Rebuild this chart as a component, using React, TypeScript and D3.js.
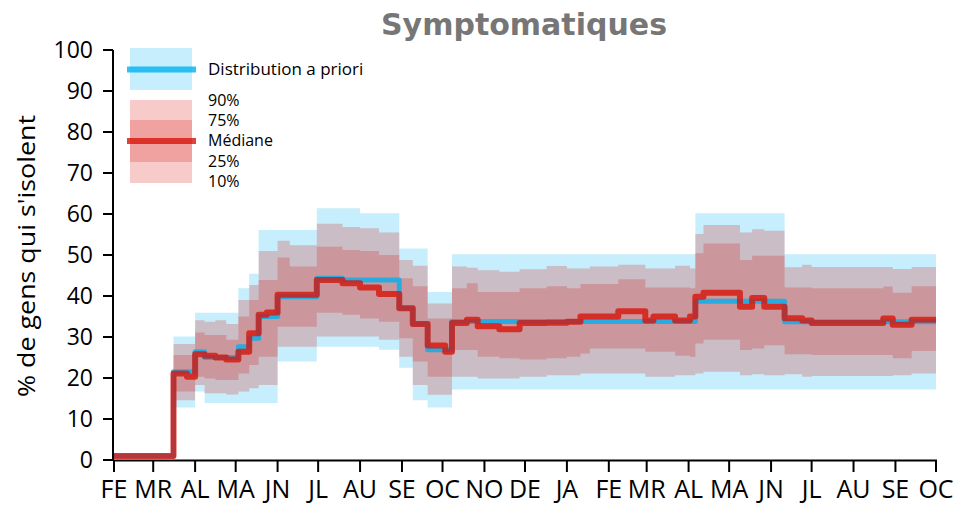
import React from "react";
import * as d3 from "d3";

// ---------- data ----------
const MONTH_LABELS = ["FE","MR","AL","MA","JN","JL","AU","SE","OC","NO","DE","JA","FE","MR","AL","MA","JN","JL","AU","SE","OC"];
const AXIS_START = "2020-02-01";
const AXIS_END = "2021-10-01";
const PRE_VALUE = 1; // value shown before the first survey period

const SEG_START = [
  "2020-03-16","2020-03-26","2020-04-01","2020-04-08","2020-04-16","2020-04-24","2020-05-03","2020-05-11",
  "2020-05-18","2020-05-24","2020-06-01","2020-06-10","2020-06-30","2020-07-19","2020-08-01","2020-08-15",
  "2020-08-30","2020-09-09","2020-09-20","2020-10-03","2020-10-08","2020-10-19","2020-10-27","2020-11-12",
  "2020-11-27","2020-12-17","2021-01-01","2021-01-11","2021-01-18","2021-02-08","2021-02-28","2021-03-06",
  "2021-03-22","2021-04-02","2021-04-06","2021-04-12","2021-05-09","2021-05-18","2021-05-27","2021-06-11",
  "2021-06-24","2021-07-01","2021-08-23","2021-08-30","2021-09-13",
];
const SEG_END = "2021-10-01";

const PRIOR_HI = [30.1,30.1,35.9,35.9,35.9,35.9,41.9,45.4,56.1,56.1,56.1,56.1,61.4,61.4,60.2,60.2,51.6,51.6,41.0,41.0,50.2,50.2,50.2,50.2,50.2,50.2,50.2,50.2,50.2,50.2,50.2,50.2,50.2,50.2,60.2,60.2,60.2,60.2,60.2,50.2,50.2,50.2,50.2,50.2,50.2];
const PRIOR_LO = [12.8,12.8,16.7,13.9,13.9,13.9,13.9,13.9,13.9,13.9,24.0,24.0,27.6,27.6,27.6,26.9,22.5,14.6,12.8,12.8,17.2,17.2,17.2,17.2,17.2,17.2,17.2,17.2,17.2,17.2,17.2,17.2,17.2,17.2,17.2,17.2,17.2,17.2,17.2,17.2,17.2,17.2,17.2,17.2,17.2];
const PRIOR_MED = [21.5,21.5,26.4,25.0,25.0,25.0,27.6,29.7,35.0,35.0,39.8,39.8,44.3,43.9,43.9,43.9,37.0,33.2,26.9,26.9,33.8,33.8,33.8,33.8,33.8,33.8,33.8,33.8,33.8,33.8,33.8,33.8,33.8,33.8,38.7,38.7,38.7,38.7,38.7,33.7,33.7,33.7,33.7,33.7,33.7];
const Q90 = [28.3,28.3,34.1,33.7,34.1,33.2,39.0,42.7,51.0,51.0,53.5,52.4,57.6,56.8,56.5,55.5,48.8,47.4,38.2,38.2,47.2,46.9,46.3,45.9,46.5,47.3,46.7,46.7,47.2,47.6,46.7,46.7,47.4,46.7,55.1,57.3,55.5,56.3,55.9,47.0,47.6,47.1,47.1,46.6,47.1];
const Q75 = [25.6,25.6,31.1,30.5,30.5,29.3,35.0,39.0,43.9,43.9,49.4,47.2,52.0,51.2,51.0,50.0,44.3,42.4,34.5,34.5,41.9,43.1,41.0,41.0,41.9,42.4,41.9,42.9,42.9,44.1,42.1,42.1,42.1,41.9,50.4,52.8,48.8,49.8,49.8,42.1,42.1,41.9,42.3,40.8,42.4];
const MEDIAN = [21.1,20.3,25.8,25.4,25.0,24.5,26.4,30.9,35.4,36.0,40.3,40.3,43.9,43.1,42.1,40.5,37.0,33.2,27.9,26.4,33.4,34.2,32.6,31.9,33.4,33.5,33.7,35.0,35.0,36.3,34.0,35.0,34.0,35.0,39.8,40.8,37.4,39.5,37.4,34.6,34.0,33.4,34.5,33.0,34.2];
const Q25 = [16.7,16.7,20.3,19.9,19.5,19.5,21.1,23.2,25.2,25.2,32.5,32.5,35.9,35.4,34.5,33.7,29.7,24.0,20.3,20.3,26.8,26.8,25.2,24.8,24.5,24.8,25.2,26.0,27.2,27.2,26.4,26.4,25.4,25.2,28.4,29.3,26.8,27.2,28.0,25.8,25.8,25.6,25.6,24.8,26.6];
const Q10 = [14.6,14.6,18.3,16.3,16.3,16.0,16.7,17.5,18.3,18.3,27.6,27.6,30.1,30.1,30.1,29.3,25.2,18.3,15.9,15.9,20.3,20.3,19.9,19.9,20.3,20.7,20.7,21.1,21.1,21.1,20.3,20.3,20.7,20.7,21.1,21.5,20.7,20.9,20.7,20.9,20.3,20.5,20.5,20.7,21.1];

const Y_TICKS = [0,10,20,30,40,50,60,70,80,90,100];
const LEGEND_RED_LABELS = ["90%","75%","Médiane","25%","10%"];

// ---------- styles ----------
const BLUE = "#00b0f0";
const RED = "#d7140a";
const FONT = "'Open Sans', sans-serif";

export default function App() {
  const W = 959, H = 507;
  const parse = d3.utcParse("%Y-%m-%d");
  const x = d3.scaleUtc().domain([parse(AXIS_START)!, parse(AXIS_END)!]).range([114, 936]);
  const y = d3.scaleLinear().domain([0, 100]).range([460, 50]);

  const dates = [...SEG_START.map((s) => parse(s)!), parse(SEG_END)!];
  const ext = (a: number[]) => [...a, a[a.length - 1]];

  const band = (lo: number[], hi: number[]) => {
    const L = ext(lo), Hh = ext(hi);
    return d3.area<Date>()
      .curve(d3.curveStepAfter)
      .x((d) => x(d))
      .y0((_, i) => y(L[i]))
      .y1((_, i) => y(Hh[i]))(dates) || "";
  };

  const lineDates = [parse(AXIS_START)!, ...dates];
  const linePath = (vals: number[]) => {
    const V = [PRE_VALUE, ...ext(vals)];
    return d3.line<Date>()
      .curve(d3.curveStepAfter)
      .x((d) => x(d))
      .y((_, i) => y(V[i]))(lineDates) || "";
  };

  const monthTicks = d3.utcMonth.range(parse(AXIS_START)!, d3.utcDay.offset(parse(AXIS_END)!, 1));

  return (
    <svg width={W} height={H} style={{ position: "absolute", left: 0, top: 0, background: "#fff" }}>
      <text x={524} y={35} textAnchor="middle" fontFamily="'DejaVu Sans', sans-serif" fontWeight={700} fontSize={30} fill="#767676">
        Symptomatiques
      </text>

      {/* bands */}
      <path d={band(PRIOR_LO, PRIOR_HI)} fill={BLUE} fillOpacity={0.22} />
      <path d={band(Q10, Q90)} fill={RED} fillOpacity={0.22} />
      <path d={band(Q25, Q75)} fill={RED} fillOpacity={0.22} />
      {/* lines */}
      <path d={linePath(PRIOR_MED)} fill="none" stroke={BLUE} strokeOpacity={0.8} strokeWidth={5} strokeLinejoin="round" />
      <path d={linePath(MEDIAN)} fill="none" stroke={RED} strokeOpacity={0.8} strokeWidth={6} strokeLinejoin="round" />

      {/* y axis */}
      <line x1={113} x2={113} y1={y(100)} y2={y(0)} stroke="#000" strokeWidth={2} />
      {Y_TICKS.map((t) => (
        <g key={t}>
          <line x1={103} x2={113} y1={y(t)} y2={y(t)} stroke="#000" strokeWidth={2} />
          <text x={93} y={y(t)} dy="0.36em" textAnchor="end" fontFamily={FONT} fontSize={23} fill="#000">{t}</text>
        </g>
      ))}
      <text transform="translate(35,256) rotate(-90)" textAnchor="middle" fontFamily={FONT} fontSize={23}
        textLength={282} lengthAdjust="spacingAndGlyphs" fill="#000">
        % de gens qui s'isolent
      </text>

      {/* x axis */}
      <line x1={113} x2={x(parse(AXIS_END)!) + 1} y1={460.5} y2={460.5} stroke="#000" strokeWidth={2} />
      {monthTicks.map((d, i) => (
        <g key={i}>
          <line x1={x(d)} x2={x(d)} y1={460} y2={472} stroke="#000" strokeWidth={2} />
          <text x={x(d)} y={498} textAnchor="middle" fontFamily={FONT} fontSize={25} fill="#000">{MONTH_LABELS[i]}</text>
        </g>
      ))}

      {/* legend */}
      <rect x={130} y={48} width={62} height={42} fill={BLUE} fillOpacity={0.22} />
      <line x1={127} x2={196} y1={69.5} y2={69.5} stroke={BLUE} strokeOpacity={0.8} strokeWidth={6} />
      <text x={208} y={75} fontFamily={FONT} fontSize={17} fill="#000">Distribution a priori</text>
      <rect x={130} y={100} width={62} height={83} fill={RED} fillOpacity={0.22} />
      <rect x={130} y={120} width={62} height={42} fill={RED} fillOpacity={0.22} />
      <line x1={127} x2={196} y1={141} y2={141} stroke={RED} strokeOpacity={0.8} strokeWidth={6} />
      {LEGEND_RED_LABELS.map((l, i) => (
        <text key={l} x={208} y={106 + i * 20.2} fontFamily={FONT} fontSize={16} fill="#000">{l}</text>
      ))}
    </svg>
  );
}
